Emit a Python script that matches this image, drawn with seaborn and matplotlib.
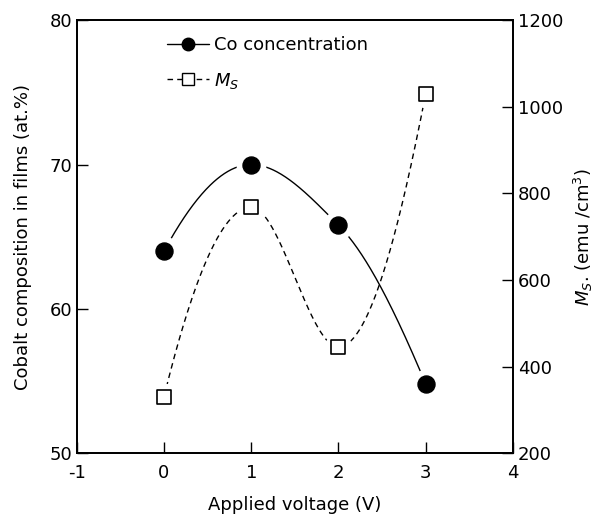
import numpy as np
import pandas as pd
import matplotlib
matplotlib.use("Agg")
import matplotlib.pyplot as plt
from matplotlib.lines import Line2D
import seaborn as sns

voltage = [0, 1, 2, 3]
co_conc = [64.0, 70.0, 65.8, 54.8]      # at.%
ms_vals = [330, 768, 445, 1030]         # emu/cm3


def pchip(x, y, xs):
    # shape preserving cubic hermite, smooth line through the points
    x = np.asarray(x, float)
    y = np.asarray(y, float)
    h = np.diff(x)
    d = np.diff(y) / h
    m = np.zeros_like(y)
    for k in range(1, len(x) - 1):
        if d[k - 1] * d[k] > 0:
            w1 = 2 * h[k] + h[k - 1]
            w2 = h[k] + 2 * h[k - 1]
            m[k] = (w1 + w2) / (w1 / d[k - 1] + w2 / d[k])
    m[0] = ((2 * h[0] + h[1]) * d[0] - h[0] * d[1]) / (h[0] + h[1])
    if np.sign(m[0]) != np.sign(d[0]):
        m[0] = 0
    m[-1] = ((2 * h[-1] + h[-2]) * d[-1] - h[-1] * d[-2]) / (h[-1] + h[-2])
    if np.sign(m[-1]) != np.sign(d[-1]):
        m[-1] = 0
    idx = np.clip(np.searchsorted(x, xs) - 1, 0, len(x) - 2)
    t = (xs - x[idx]) / h[idx]
    h00 = 2 * t**3 - 3 * t**2 + 1
    h10 = t**3 - 2 * t**2 + t
    h01 = -2 * t**3 + 3 * t**2
    h11 = t**3 - t**2
    return h00 * y[idx] + h10 * h[idx] * m[idx] + h01 * y[idx + 1] + h11 * h[idx] * m[idx + 1]


sns.set_style("ticks")
plt.rcParams["font.family"] = ["DejaVu Sans"]
plt.rcParams["xtick.direction"] = "in"
plt.rcParams["ytick.direction"] = "in"
plt.rcParams["axes.unicode_minus"] = False
plt.rcParams["text.color"] = "black"
plt.rcParams["axes.labelcolor"] = "black"
plt.rcParams["xtick.color"] = "black"
plt.rcParams["ytick.color"] = "black"
plt.rcParams["axes.edgecolor"] = "black"

fig = plt.figure(figsize=(5.95, 5.19), dpi=100)
ax = fig.add_axes([0.129, 0.127, 0.733, 0.834])
ax2 = ax.twinx()

xs = np.linspace(0, 3, 300)
curve_co = pd.DataFrame({"x": xs, "y": pchip(voltage, co_conc, xs)})
curve_ms = pd.DataFrame({"x": xs, "y": pchip(voltage, ms_vals, xs)})

sns.lineplot(data=curve_co, x="x", y="y", ax=ax, color="black", lw=1.0)
sns.lineplot(data=curve_ms, x="x", y="y", ax=ax2, color="black", lw=1.0,
             linestyle=(0, (4, 3)))

# white halo so the lines stop short of the symbols
ax.scatter(voltage, co_conc, s=420, color="white", zorder=3)
ax2.scatter(voltage, ms_vals, s=360, color="white", zorder=3)
ax.scatter(voltage, co_conc, s=150, color="black", zorder=4)
ax2.scatter(voltage, ms_vals, s=110, marker="s", facecolor="white",
            edgecolor="black", linewidth=1.2, zorder=4)

ax.set_xlim(-1, 4)
ax.set_ylim(50, 80)
ax2.set_ylim(200, 1200)
ax.set_xticks(range(-1, 5))
ax.set_yticks([50, 60, 70, 80])
ax2.set_yticks(range(200, 1201, 200))
for a in (ax, ax2):
    a.tick_params(length=8, width=1, labelsize=13, colors="black")
    for s in a.spines.values():
        s.set_linewidth(1.3)
        s.set_visible(True)
ax.tick_params(axis="x", pad=8)

ax.set_xlabel("Applied voltage (V)", fontsize=13, labelpad=10)
ax.set_ylabel("Cobalt composition in films (at.%)", fontsize=13, labelpad=12)
ax2.set_ylabel("$M_S$. (emu /cm$^3$)", fontsize=13, labelpad=6)

handles = [
    Line2D([], [], color="black", lw=1.0, marker="o", markersize=9),
    Line2D([], [], color="black", lw=1.0, linestyle=(0, (4, 3)), marker="s",
           markersize=8, markerfacecolor="white"),
]
ax.legend(handles, ["Co concentration", "$M_S$"], loc="upper left",
          bbox_to_anchor=(0.17, 1.0), frameon=False, fontsize=13,
          handlelength=2.3, handletextpad=0.3, labelspacing=0.9)

fig.savefig("out.png", dpi=100)
